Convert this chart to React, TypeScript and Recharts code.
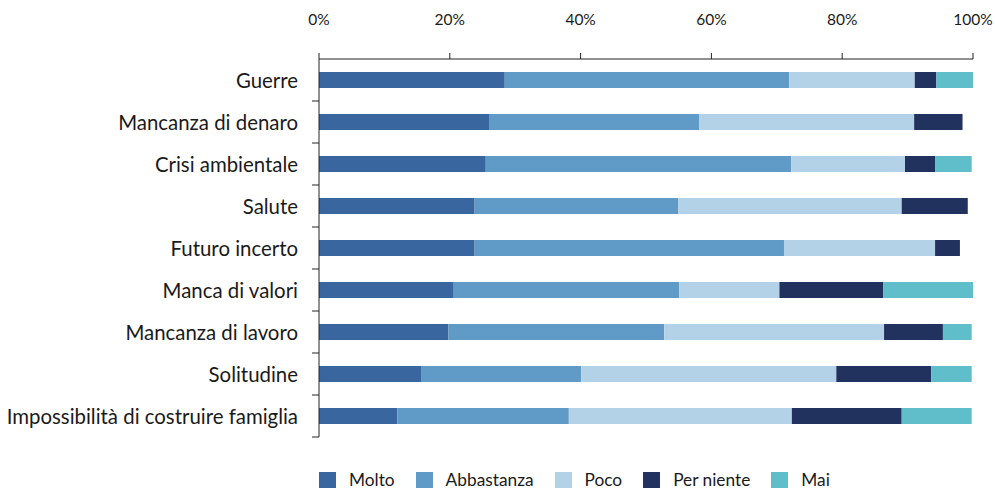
import React from 'react';
import { BarChart, Bar, XAxis, YAxis, Legend } from 'recharts';

const categories = [
  'Guerre',
  'Mancanza di denaro',
  'Crisi ambientale',
  'Salute',
  'Futuro incerto',
  'Manca di valori',
  'Mancanza di lavoro',
  'Solitudine',
  'Impossibilità di costruire famiglia',
];
const molto = [28.4, 26.1, 25.5, 23.8, 23.8, 20.6, 19.8, 15.6, 12.0];
const abbastanza = [43.5, 32.0, 46.7, 31.1, 47.3, 34.5, 33.0, 24.5, 26.2];
const poco = [19.2, 32.9, 17.4, 34.2, 23.1, 15.3, 33.6, 39.0, 34.1];
const perNiente = [3.3, 7.4, 4.6, 10.1, 3.8, 15.9, 9.0, 14.5, 16.8];
const mai = [5.6, 0, 5.6, 0, 0, 13.7, 4.4, 6.2, 10.7];
const xTicks = [0, 20, 40, 60, 80, 100];

const seriesNames = ['Molto', 'Abbastanza', 'Poco', 'Per niente', 'Mai'];
const seriesKeys = ['molto', 'abbastanza', 'poco', 'perNiente', 'mai'];
const seriesColors = ['#3A66A0', '#5F9BC6', '#B3D2E7', '#21325E', '#60BDCA'];

const data = categories.map((name, i) => ({
  name,
  molto: molto[i],
  abbastanza: abbastanza[i],
  poco: poco[i],
  perNiente: perNiente[i],
  mai: mai[i],
}));

const W = 995;
const H = 490;
const TOP = 59;
const AXIS_X = 319;
const BOTTOM_MARGIN = 29;
const LEGEND_H = 24;
const PLOT_H = H - TOP - BOTTOM_MARGIN - LEGEND_H;
const BAND = PLOT_H / categories.length;
const FONT = 'Lato, "Noto Sans", sans-serif';
const INK = '#1a1a1a';

const YTick = (props: any) => {
  const { x, y, payload } = props;
  return (
    <g>
      <text
        x={x}
        y={y}
        textAnchor="end"
        dominantBaseline="central"
        fontFamily={FONT}
        fontSize={20.4}
        fill={INK}
      >
        {payload.value}
      </text>
      <line x1={AXIS_X - 7} x2={AXIS_X} y1={y + BAND / 2} y2={y + BAND / 2} stroke="#222" strokeWidth={1} />
    </g>
  );
};

const LegendContent = () => (
  <div
    style={{
      display: 'flex',
      alignItems: 'center',
      paddingLeft: AXIS_X,
      height: LEGEND_H,
      lineHeight: `${LEGEND_H}px`,
      fontFamily: FONT,
      fontSize: 17.3,
      color: INK,
      whiteSpace: 'nowrap',
    }}
  >
    {seriesNames.map((n, i) => (
      <div key={n} style={{ display: 'flex', alignItems: 'center', marginRight: 21 }}>
        <span style={{ display: 'inline-block', width: 17, height: 16, background: seriesColors[i], marginRight: 13 }} />
        <span>{n}</span>
      </div>
    ))}
  </div>
);

export default function App() {
  return (
    <div style={{ position: 'absolute', left: 0, top: 0, width: W, height: H, background: '#fff' }}>
      <BarChart
        width={W}
        height={H}
        data={data}
        layout="vertical"
        margin={{ top: 0, right: 22, left: 0, bottom: BOTTOM_MARGIN }}
        barSize={16}
      >
        <XAxis
          type="number"
          orientation="top"
          domain={[0, 100]}
          ticks={xTicks}
          height={TOP}
          tickFormatter={(v: number) => `${v}%`}
          tickSize={6}
          tickMargin={28}
          axisLine={{ stroke: '#222' }}
          tickLine={{ stroke: '#222' }}
          tick={{ fontFamily: FONT, fontSize: 15.5, fill: INK }}
          interval={0}
        />
        <YAxis
          type="category"
          dataKey="name"
          width={AXIS_X}
          interval={0}
          tickLine={false}
          tickSize={0}
          tickMargin={21}
          axisLine={{ stroke: '#222' }}
          tick={<YTick />}
        />
        <Legend
          verticalAlign="bottom"
          align="left"
          content={<LegendContent />}
          wrapperStyle={{ top: 468, left: 0, width: W, height: LEGEND_H }}
        />
        {seriesKeys.map((k, i) => (
          <Bar
            key={k}
            dataKey={k}
            name={seriesNames[i]}
            stackId="a"
            fill={seriesColors[i]}
            isAnimationActive={false}
          />
        ))}
      </BarChart>
    </div>
  );
}
